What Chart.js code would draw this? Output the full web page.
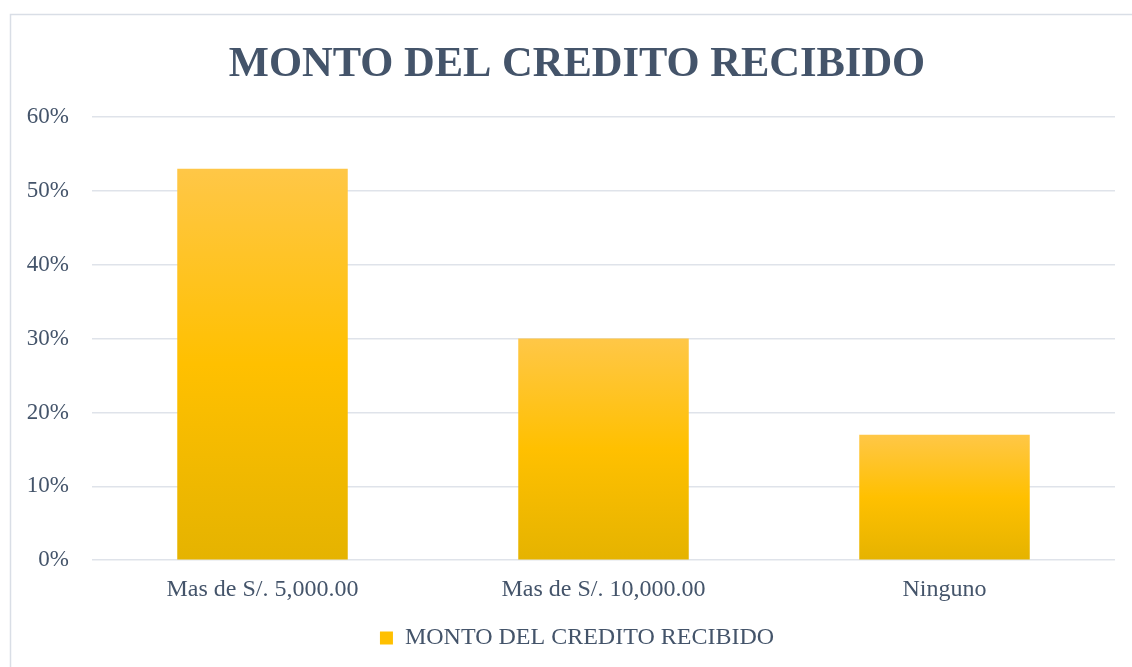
<!DOCTYPE html>
<html>
<head>
<meta charset="utf-8">
<script src="https://cdn.jsdelivr.net/npm/chart.js@4.4.1/dist/chart.umd.min.js"></script>
<style>
  html, body { margin: 0; padding: 0; background: #ffffff; }
  #wrap { width: 1132px; height: 667px; }
</style>
</head>
<body>
<div id="wrap"><canvas id="c" width="1132" height="667"></canvas></div>
<script>
const categories = ["Mas de S/. 5,000.00", "Mas de S/. 10,000.00", "Ninguno"];
const values = [53, 30, 17];
const tickValues = [0, 10, 20, 30, 40, 50, 60];
const seriesName = "MONTO DEL CREDITO RECIBIDO";
const chartTitle = "MONTO DEL CREDITO RECIBIDO";

const TEXT = '#44546A';
const FONT = "'Liberation Serif', 'Times New Roman', serif";

function barGradient(ctx) {
  const chart = ctx.chart;
  const y = chart.scales && chart.scales.y;
  if (!chart.chartArea || !y || ctx.dataIndex === undefined) return '#FFC000';
  const v = values[ctx.dataIndex];
  const top = y.getPixelForValue(v);
  const bottom = y.getPixelForValue(0);
  if (!isFinite(top) || !isFinite(bottom) || top === bottom) return '#FFC000';
  const g = chart.ctx.createLinearGradient(0, top, 0, bottom);
  g.addColorStop(0, '#FFC747');
  g.addColorStop(0.5, '#FFC000');
  g.addColorStop(1, '#E5B300');
  return g;
}

const frame = {
  id: 'frame',
  beforeDraw(chart) {
    const c = chart.ctx;
    c.save();
    c.fillStyle = '#ffffff';
    c.fillRect(0, 0, chart.width, chart.height);
    c.strokeStyle = '#D9DEE6';
    c.lineWidth = 1.5;
    c.strokeRect(10.5, 14.5, 1200, 700);
    c.restore();
  },
  afterLayout(chart) {
    const y = chart.scales.y;
    if (y) y.left = 0;
  }
};

new Chart(document.getElementById('c'), {
  type: 'bar',
  data: {
    labels: categories,
    datasets: [{
      label: seriesName,
      data: values,
      backgroundColor: barGradient,
      borderWidth: 0,
      barPercentage: 0.5,
      categoryPercentage: 1.0
    }]
  },
  options: {
    responsive: false,
    animation: false,
    devicePixelRatio: 1,
    layout: { padding: { left: 39, right: 17, top: 20, bottom: 7 } },
    plugins: {
      title: {
        display: true,
        text: chartTitle,
        color: TEXT,
        font: { family: FONT, size: 42.5, weight: 'bold', lineHeight: 1.2 },
        padding: { top: 20, bottom: 26 }
      },
      legend: {
        display: true,
        position: 'bottom',
        labels: {
          color: TEXT,
          font: { family: FONT, size: 24 },
          boxWidth: 13,
          boxHeight: 13,
          padding: 7,
          generateLabels(chart) {
            const items = Chart.defaults.plugins.legend.labels.generateLabels(chart);
            items.forEach(it => { it.fillStyle = '#FFC000'; it.lineWidth = 0; it.strokeStyle = 'rgba(0,0,0,0)'; });
            return items;
          }
        }
      },
      tooltip: { enabled: false }
    },
    scales: {
      x: {
        grid: { display: false, drawTicks: false },
        border: { display: false },
        ticks: { color: TEXT, font: { family: FONT, size: 24 }, padding: 15, maxRotation: 0 }
      },
      y: {
        min: 0,
        max: 60,
        afterBuildTicks(scale) { scale.ticks = tickValues.map(v => ({ value: v })); },
        afterFit(scale) { scale.width = 53; },
        grid: { color: '#DFE3EA', lineWidth: 1.5, drawTicks: false },
        border: { display: false },
        ticks: {
          color: TEXT,
          font: { family: FONT, size: 23 },
          padding: 23,
          callback: v => v + '%'
        }
      }
    }
  },
  plugins: [frame]
});
</script>
</body>
</html>
